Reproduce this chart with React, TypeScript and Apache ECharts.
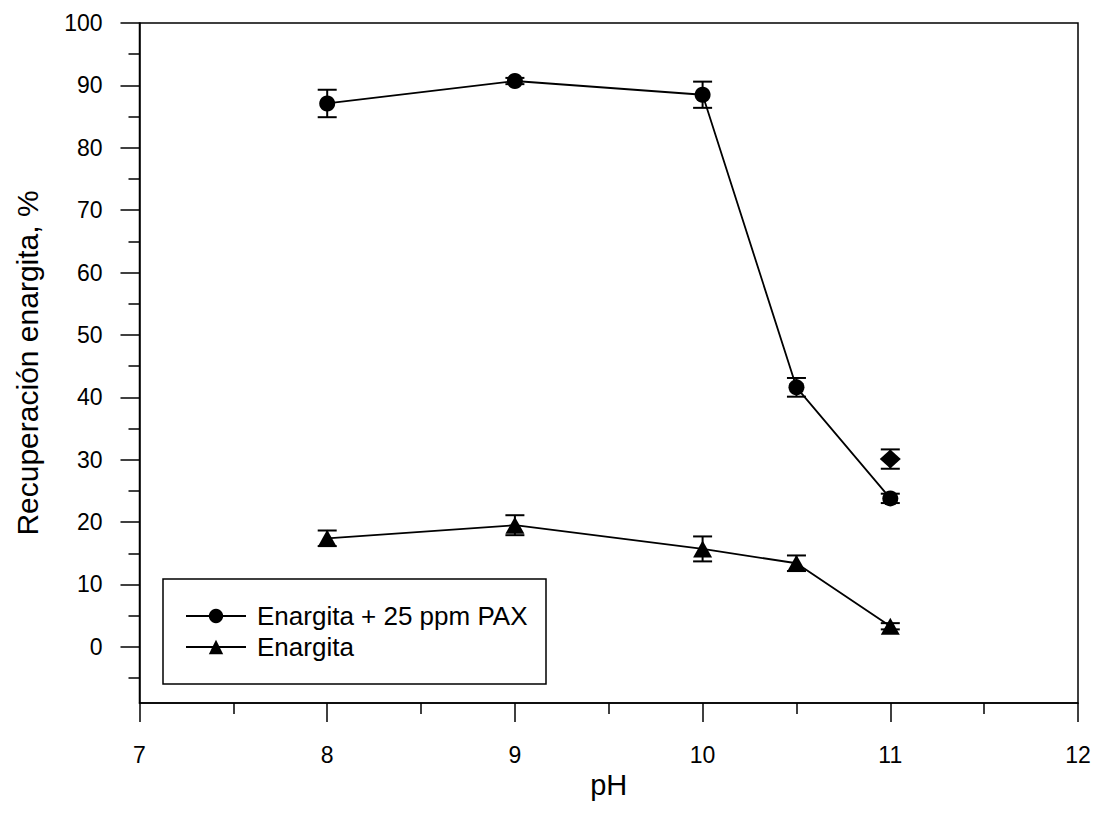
import React, { useEffect, useRef } from "react";
import * as echarts from "echarts";

// pH values tested
const phPax = [8, 9, 10, 10.5, 11];
const phEna = [8, 9, 10, 10.5, 11];

// Enargite recovery (%) with 25 ppm PAX and its standard deviation
const recPax = [87.1, 90.7, 88.5, 41.6, 23.8];
const errPax = [2.2, 0.5, 2.1, 1.5, 0.75];

// Enargite recovery (%) without collector and its standard deviation
const recEna = [17.4, 19.5, 15.7, 13.4, 3.3];
const errEna = [1.25, 1.6, 2.0, 1.25, 0.5];

// Extra single point at pH 11 (diamond)
const phExtra = [11];
const recExtra = [30.1];
const errExtra = [1.55];

// Axis ticks
const yMajorTicks = [0, 10, 20, 30, 40, 50, 60, 70, 80, 90, 100];
const yMinorTicks = [-5, 5, 15, 25, 35, 45, 55, 65, 75, 85, 95];

const FONT = 'Arial, "Liberation Sans", sans-serif';

function pairs(xs: number[], ys: number[]) {
  return xs.map((x, i) => [x, ys[i]]);
}

function errRows(xs: number[], ys: number[], es: number[]) {
  return xs.map((x, i) => [x, ys[i], ys[i] - es[i], ys[i] + es[i]]);
}

const capHalf = 9.5;

function renderErrorBar(_params: any, api: any) {
  const x = api.value(0);
  const lo = api.value(2);
  const hi = api.value(3);
  const top = api.coord([x, hi]);
  const bot = api.coord([x, lo]);
  const style = { stroke: "#000", lineWidth: 2 };
  return {
    type: "group",
    children: [
      { type: "line", shape: { x1: top[0], y1: top[1], x2: bot[0], y2: bot[1] }, style },
      { type: "line", shape: { x1: top[0] - capHalf, y1: top[1], x2: top[0] + capHalf, y2: top[1] }, style },
      { type: "line", shape: { x1: bot[0] - capHalf, y1: bot[1], x2: bot[0] + capHalf, y2: bot[1] }, style },
    ],
  };
}

export default function App() {
  const ref = useRef<HTMLDivElement>(null);

  useEffect(() => {
    if (!ref.current) return;
    const chart = echarts.init(ref.current, null, { renderer: "svg" });

    const axisLine = { show: true, onZero: false, lineStyle: { color: "#000", width: 1.5 } };

    chart.setOption({
      animation: false,
      backgroundColor: "#fff",
      textStyle: { fontFamily: FONT, color: "#000" },
      grid: {
        left: 139.5,
        right: 18,
        top: 23,
        bottom: 124,
        show: true,
        borderColor: "#000",
        borderWidth: 1.5,
        backgroundColor: "transparent",
      },
      legend: {
        orient: "vertical",
        left: 180,
        top: 598,
        itemWidth: 60,
        itemHeight: 18,
        itemGap: 5,
        data: ["Enargita + 25 ppm PAX", "Enargita"],
        textStyle: { fontFamily: FONT, fontSize: 26, color: "#000", padding: [0, 0, 0, 6] },
      },
      graphic: [
        {
          type: "rect",
          shape: { x: 163, y: 579, width: 383, height: 105 },
          style: { fill: "none", stroke: "#000", lineWidth: 1.5 },
          z: 10,
        },
      ],
      xAxis: {
        type: "value",
        min: 7,
        max: 12,
        interval: 1,
        name: "pH",
        nameLocation: "middle",
        nameGap: 65,
        nameTextStyle: { fontFamily: FONT, fontSize: 29, color: "#000" },
        axisLine,
        axisTick: { show: true, inside: false, length: 19, lineStyle: { color: "#000", width: 1.5 } },
        minorTick: { show: true, splitNumber: 2, length: 11, lineStyle: { color: "#000", width: 1.5 } },
        splitLine: { show: false },
        axisLabel: { fontFamily: FONT, fontSize: 23, color: "#000", margin: 40 },
      },
      yAxis: [
        {
          type: "value",
          min: -9,
          max: 100,
          name: "Recuperación enargita, %",
          nameLocation: "middle",
          nameRotate: 90,
          nameGap: 97,
          nameTextStyle: { fontFamily: FONT, fontSize: 30, color: "#000" },
          axisLine,
          axisTick: {
            show: true,
            inside: false,
            length: 19,
            customValues: yMajorTicks,
            lineStyle: { color: "#000", width: 1.5 },
          },
          axisLabel: {
            fontFamily: FONT,
            fontSize: 23,
            color: "#000",
            margin: 37,
            customValues: yMajorTicks,
          },
          splitLine: { show: false },
        },
        {
          type: "value",
          min: -9,
          max: 100,
          position: "left",
          axisLine: { show: false },
          axisTick: {
            show: true,
            inside: false,
            length: 11,
            customValues: yMinorTicks,
            lineStyle: { color: "#000", width: 1.5 },
          },
          axisLabel: { show: false },
          splitLine: { show: false },
        },
      ],
      series: [
        {
          name: "Enargita + 25 ppm PAX",
          type: "line",
          data: pairs(phPax, recPax),
          symbol: "circle",
          symbolSize: 16,
          itemStyle: { color: "#000" },
          lineStyle: { color: "#000", width: 1.8 },
          z: 3,
        },
        {
          name: "Enargita",
          type: "line",
          data: pairs(phEna, recEna),
          symbol: "triangle",
          symbolSize: [19, 17],
          itemStyle: { color: "#000" },
          lineStyle: { color: "#000", width: 1.8 },
          z: 3,
        },
        {
          name: "extra",
          type: "scatter",
          data: pairs(phExtra, recExtra),
          symbol: "diamond",
          symbolSize: [21, 19],
          itemStyle: { color: "#000", opacity: 1 },
          z: 3,
        },
        {
          type: "custom",
          renderItem: renderErrorBar,
          data: errRows(phPax, recPax, errPax),
          z: 2,
        },
        {
          type: "custom",
          renderItem: renderErrorBar,
          data: errRows(phEna, recEna, errEna),
          z: 2,
        },
        {
          type: "custom",
          renderItem: renderErrorBar,
          data: errRows(phExtra, recExtra, errExtra),
          z: 2,
        },
      ],
    });

    return () => chart.dispose();
  }, []);

  return (
    <div
      ref={ref}
      style={{ position: "fixed", left: 0, top: 0, width: 1096, height: 827, background: "#fff" }}
    />
  );
}
